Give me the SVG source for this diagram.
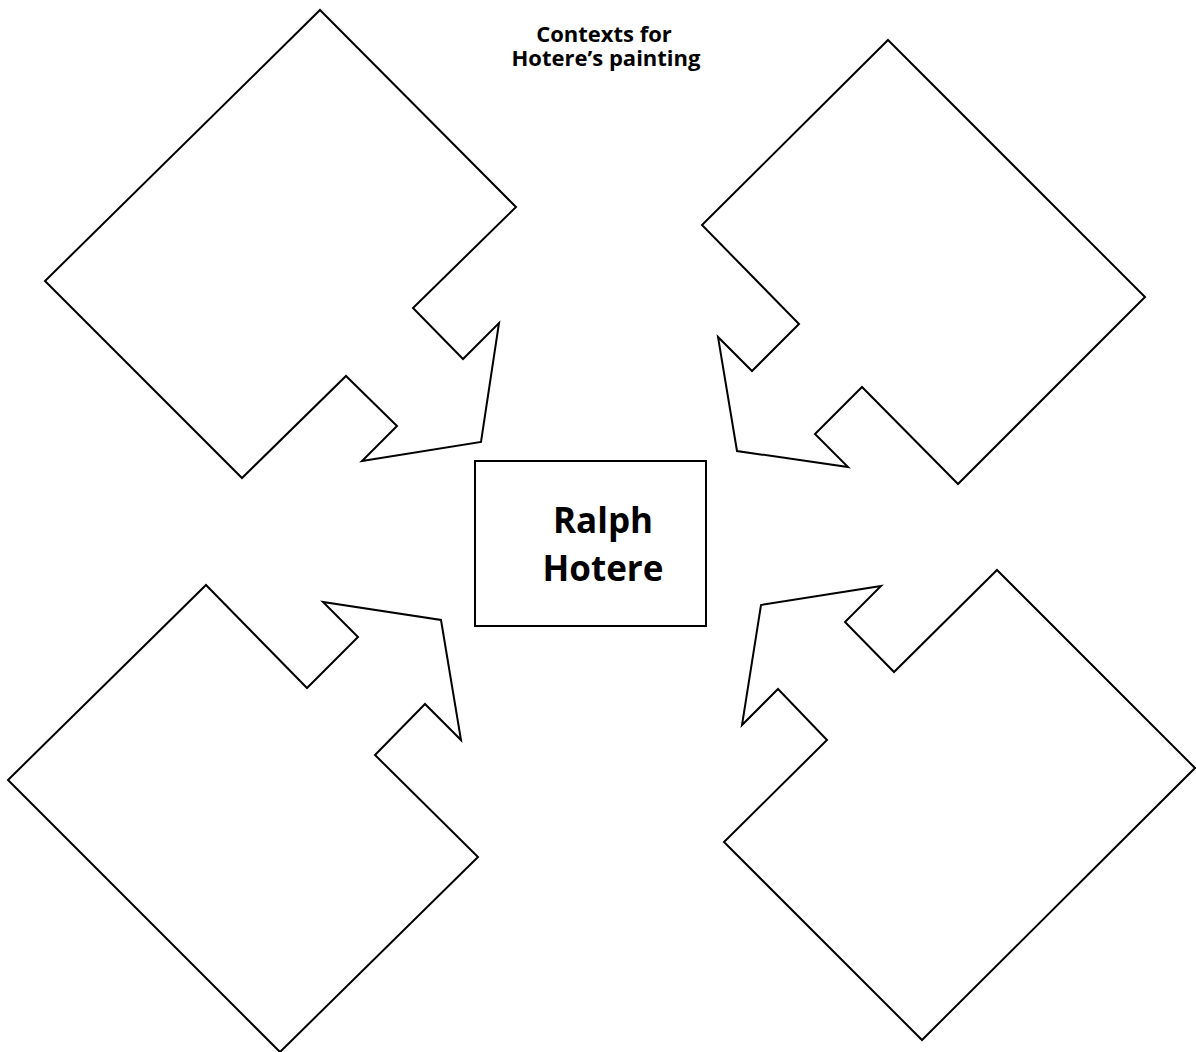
<svg xmlns="http://www.w3.org/2000/svg" width="1196" height="1052" viewBox="0 0 1196 1052">
  <style>
    .shape { fill: #ffffff; stroke: #000000; stroke-width: 2; stroke-linejoin: miter; }
    .title { font-family: "Open Sans", "Noto Sans", "Liberation Sans", sans-serif; font-weight: bold; font-size: 22px; fill: #000000; text-anchor: middle; }
    .label { font-family: "Open Sans", "Noto Sans", "Liberation Sans", sans-serif; font-weight: bold; font-size: 35px; fill: #000000; text-anchor: middle; }
  </style>
  <rect x="0" y="0" width="1196" height="1052" fill="#ffffff"/>

  <g id="title">
    <text class="title"><tspan x="604" y="42">Contexts for</tspan><tspan x="606" y="66">Hotere’s painting</tspan></text>
  </g>

  <!-- Arrow-shaped callouts pointing at the centre box -->
  <g id="connectors">
    <g id="callout-top-left">
      <polygon class="shape" points="320,10 516,207 413,308 463,359 499,323 481,442 362,461 397,426 346,376 242,478 45,281"/>
    </g>
    <g id="callout-top-right">
      <polygon class="shape" points="888,40 1145,297 958,484 862,387 815,434 848,467 737,451 718,337 752,371 799,324 702,225"/>
    </g>
    <g id="callout-bottom-left">
      <polygon class="shape" points="206,585 307,688 358,637 323,602 441,620 461,740 425,704 375,755 478,857 280,1052 8,780"/>
    </g>
    <g id="callout-bottom-right">
      <polygon class="shape" points="997,570 1195,768 922,1040 724,842 827,740 778,689 742,725 761,605 881,586 845,622 894,672"/>
    </g>
  </g>

  <g id="centre">
    <rect class="shape" x="475" y="461" width="231" height="165"/>
    <text class="label"><tspan x="603" y="533">Ralph</tspan><tspan x="603" y="581">Hotere</tspan></text>
  </g>
</svg>
